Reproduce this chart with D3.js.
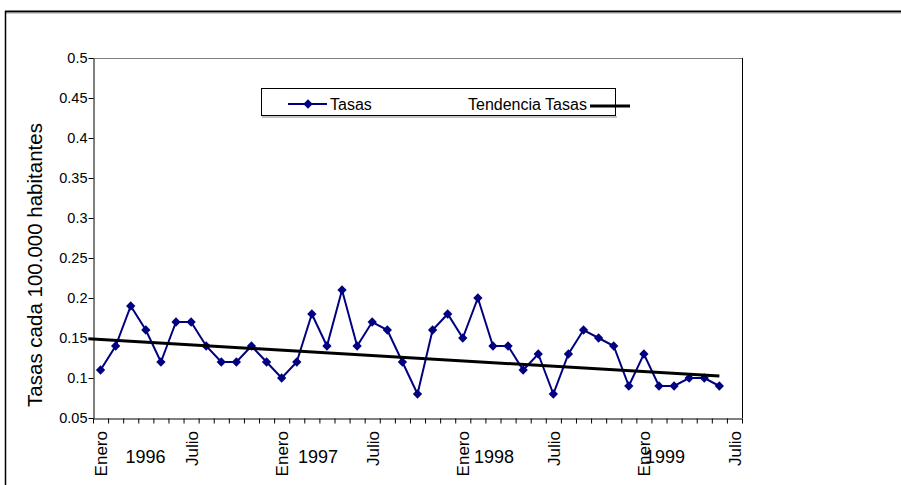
<!DOCTYPE html>
<html>
<head>
<meta charset="utf-8">
<script src="https://cdn.jsdelivr.net/npm/d3@7"></script>
<style>
  html, body { margin: 0; padding: 0; background: #fff; }
  svg { display: block; font-family: Arial, "Liberation Sans", sans-serif; }
</style>
</head>
<body>
<svg id="chart" width="901" height="485"></svg>
<script>
// Monthly rates, January 1996 to June 1999
const months = ["Enero","Febrero","Marzo","Abril","Mayo","Junio","Julio","Agosto","Septiembre","Octubre","Noviembre","Diciembre"];
const years = ["1996","1997","1998","1999"];
const tasas = [
  0.11, 0.14, 0.19, 0.16, 0.12, 0.17, 0.17, 0.14, 0.12, 0.12, 0.14, 0.12,
  0.10, 0.12, 0.18, 0.14, 0.21, 0.14, 0.17, 0.16, 0.12, 0.08, 0.16, 0.18,
  0.15, 0.20, 0.14, 0.14, 0.11, 0.13, 0.08, 0.13, 0.16, 0.15, 0.14, 0.09,
  0.13, 0.09, 0.09, 0.10, 0.10, 0.09
];
// Trend line endpoints: category position and rate
const trendIndex = [-0.8, 41];
const trendValues = [0.149, 0.1025];
// Y axis ticks
const yTicks = [0.05, 0.1, 0.15, 0.2, 0.25, 0.3, 0.35, 0.4, 0.45, 0.5];
const yTickLabels = ["0.05","0.1","0.15","0.2","0.25","0.3","0.35","0.4","0.45","0.5"];
// Year label positions along the category axis
const yearLabelPos = [3.48, 14.91, 26.57, 37.9];

// Categories: Jan 1996 .. Jul 1999 (the last one has no value)
const categories = [];
for (let yi = 0; yi < years.length; yi++) {
  for (let m = 0; m < 12; m++) {
    if (categories.length < 43) categories.push({ month: months[m], year: years[yi] });
  }
}

const svg = d3.select("#chart");
const plotLeft = 93, plotRight = 742, plotTop = 58, plotBottom = 418;

// Outer chart frame
svg.append("line").attr("x1", 5).attr("x2", 901).attr("y1", 11.5).attr("y2", 11.5)
  .attr("stroke", "#000").attr("stroke-width", 2);
svg.append("line").attr("x1", 5).attr("x2", 901).attr("y1", 13).attr("y2", 13)
  .attr("stroke", "#999").attr("stroke-width", 1);
svg.append("line").attr("x1", 5.5).attr("x2", 5.5).attr("y1", 11).attr("y2", 485)
  .attr("stroke", "#000").attr("stroke-width", 1.5);

const x = d3.scaleLinear().domain([0, categories.length]).range([plotLeft, plotRight]);
const y = d3.scaleLinear().domain([0.05, 0.5]).range([plotBottom, plotTop]);

// Plot area borders
svg.append("line").attr("x1", plotLeft).attr("x2", plotRight).attr("y1", plotTop + 0.5).attr("y2", plotTop + 0.5)
  .attr("stroke", "#808080").attr("stroke-width", 1);
svg.append("line").attr("x1", plotRight + 0.5).attr("x2", plotRight + 0.5).attr("y1", plotTop).attr("y2", plotBottom)
  .attr("stroke", "#000").attr("stroke-width", 1);

// Y axis
const yAxis = d3.axisLeft(y).tickValues(yTicks)
  .tickFormat((d, i) => yTickLabels[i]).tickSize(5).tickSizeOuter(0);
const gy = svg.append("g").attr("transform", `translate(${plotLeft + 0.5},0)`).call(yAxis);
gy.select(".domain").attr("stroke", "#000");
gy.selectAll(".tick line").attr("stroke", "#000");
gy.selectAll(".tick text").attr("font-size", 14.5).attr("fill", "#000")
  .attr("font-family", "Arial, 'Liberation Sans', sans-serif").attr("x", -6);

// X axis: tick marks at category boundaries
const xAxis = d3.axisBottom(x).tickValues(d3.range(0, categories.length + 1))
  .tickFormat("").tickSize(5).tickSizeOuter(0);
const gx = svg.append("g").attr("transform", `translate(0,${plotBottom + 0.5})`).call(xAxis);
gx.select(".domain").attr("stroke", "#000");
gx.selectAll(".tick line").attr("stroke", "#000");

// Month labels (Enero / Julio), rotated
categories.forEach((c, i) => {
  if (c.month === "Enero" || c.month === "Julio") {
    const cx = x(i + 0.5);
    svg.append("text")
      .attr("transform", `translate(${cx + 6.5},${plotBottom + 13}) rotate(-90)`)
      .attr("text-anchor", "end")
      .attr("font-size", 17)
      .attr("fill", "#000")
      .text(c.month);
  }
});

// Year labels
years.forEach((yr, i) => {
  svg.append("text")
    .attr("x", x(yearLabelPos[i]))
    .attr("y", 463)
    .attr("text-anchor", "middle")
    .attr("font-size", 18)
    .attr("fill", "#000")
    .text(yr);
});

// Y axis title
svg.append("text")
  .attr("transform", `translate(42,${(120 + 410) / 2}) rotate(-90)`)
  .attr("text-anchor", "middle")
  .attr("font-size", 20.5)
  .attr("fill", "#000")
  .text("Tasas cada 100.000 habitantes");

// Rates series
const line = d3.line().x((d, i) => x(i + 0.5)).y(d => y(d));
svg.append("path").datum(tasas)
  .attr("d", line).attr("fill", "none")
  .attr("stroke", "#000080").attr("stroke-width", 2);

const diamond = d3.symbol().type(d3.symbolDiamond2).size(55);
svg.selectAll(".pt").data(tasas).enter().append("path")
  .attr("class", "pt")
  .attr("d", diamond)
  .attr("transform", (d, i) => `translate(${x(i + 0.5)},${y(d)})`)
  .attr("fill", "#000080");

// Trend line
svg.append("line")
  .attr("x1", x(trendIndex[0] + 0.5)).attr("y1", y(trendValues[0]))
  .attr("x2", x(trendIndex[1] + 0.5)).attr("y2", y(trendValues[1]))
  .attr("stroke", "#000").attr("stroke-width", 3);

// Legend
const lg = svg.append("g");
lg.append("rect").attr("x", 261.5).attr("y", 88.5).attr("width", 354).attr("height", 27)
  .attr("fill", "#fff").attr("stroke", "#000").attr("stroke-width", 1);
lg.append("line").attr("x1", 262).attr("x2", 617).attr("y1", 117).attr("y2", 117)
  .attr("stroke", "#888").attr("stroke-width", 1);
lg.append("line").attr("x1", 288).attr("x2", 327).attr("y1", 104).attr("y2", 104)
  .attr("stroke", "#000080").attr("stroke-width", 2);
lg.append("path").attr("d", diamond).attr("transform", "translate(308,104)").attr("fill", "#000080");
lg.append("text").attr("x", 330).attr("y", 110).attr("font-size", 16).attr("fill", "#000").text("Tasas");
lg.append("text").attr("x", 468).attr("y", 110).attr("font-size", 16).attr("fill", "#000").text("Tendencia Tasas");
lg.append("line").attr("x1", 590).attr("x2", 630).attr("y1", 106).attr("y2", 106)
  .attr("stroke", "#000").attr("stroke-width", 3);
</script>
</body>
</html>
